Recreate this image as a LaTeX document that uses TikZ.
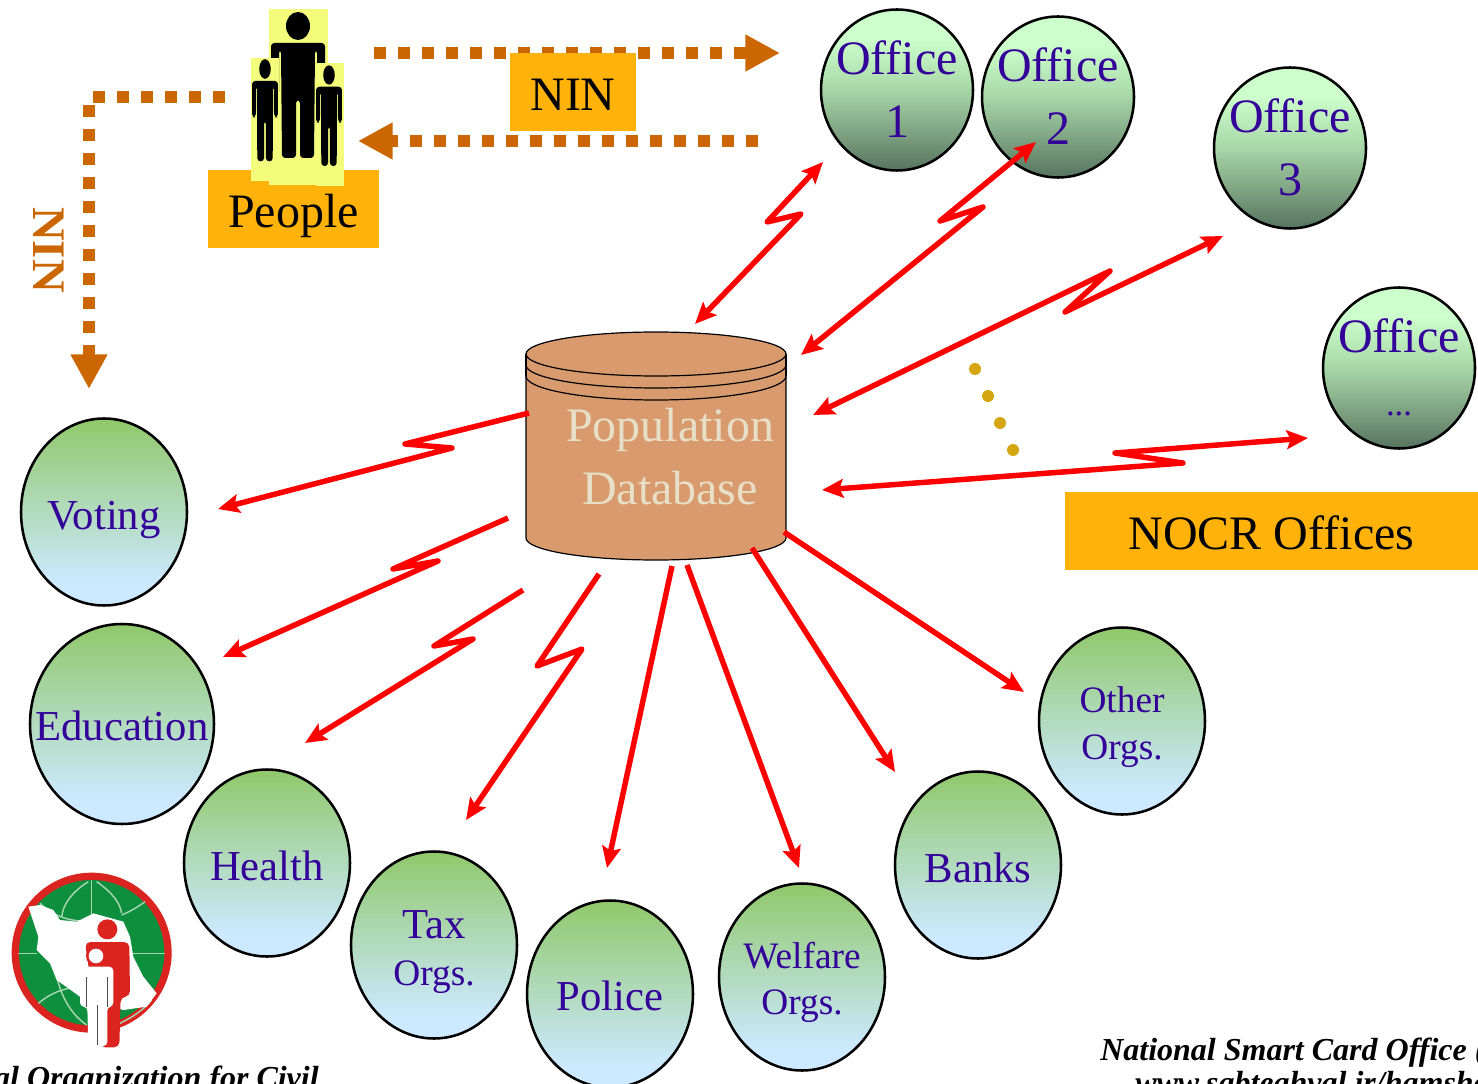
\documentclass[tikz,border=0pt]{standalone}
\usepackage{fontspec}
\setmainfont{Liberation Serif}
\usetikzlibrary{shapes.geometric,arrows.meta}
\definecolor{indigo}{HTML}{330099}
\definecolor{nin}{HTML}{CC6600}
\definecolor{boxor}{HTML}{FFB30A}
\definecolor{yel}{HTML}{F4FC7C}
\definecolor{dbfill}{HTML}{D99B6E}
\definecolor{dbtext}{HTML}{E8DFC8}
\definecolor{orgtop}{HTML}{90C86A}
\definecolor{orgbot}{HTML}{CCE9FF}
\definecolor{offtop}{HTML}{CCFFCC}
\definecolor{offmid}{HTML}{A8D6A8}
\definecolor{offbot}{HTML}{5A7862}
\definecolor{gold}{HTML}{D4A60F}
\definecolor{logored}{HTML}{DB2320}
\definecolor{logogreen}{HTML}{0E8F3E}
\definecolor{logoline}{HTML}{A5D6B0}
\pgfdeclareverticalshading{orgshade}{100bp}{color(0bp)=(orgbot); color(31bp)=(orgbot); color(75bp)=(orgtop); color(100bp)=(orgtop)}
\pgfdeclareverticalshading{offshade}{100bp}{color(0bp)=(offbot); color(26bp)=(offbot); color(50bp)=(offmid); color(66bp)=(offtop); color(100bp)=(offtop)}
\newcommand\lbl[2]{\raisebox{#1}[0pt][0pt]{\begin{tabular}{@{}c@{}}#2\end{tabular}}}
\newcommand\orgsmall{\fontsize{28}{35}\selectfont}
\tikzset{
  sz/.style 2 args={minimum width=#1*0.75pt,minimum height=#2*0.75pt},
  circ/.style={ellipse,draw=black,line width=1.9pt,inner sep=-100pt,text=indigo},
  orgnode/.style={circ,shade,shading=orgshade,sz={166}{187},font=\fontsize{32}{35}\selectfont},
  officenode/.style={circ,shade,shading=offshade,sz={152}{161},font=\fontsize{36}{47.25}\selectfont},
  orbox/.style={rectangle,fill=boxor,inner sep=0pt,text=black,font=\fontsize{36}{47}\selectfont},
  yelbox/.style={rectangle,fill=yel,inner sep=0pt},
  bolt/.style={draw=red,line width=4.1pt,line join=round,-{Stealth[length=16pt,width=14pt,inset=3pt]}},
  boltboth/.style={bolt,{Stealth[length=16pt,width=14pt,inset=3pt]}-{Stealth[length=16pt,width=14pt,inset=3pt]}},
  ninarrow/.style={draw=nin,line width=8.5pt,dash pattern=on 9pt off 9pt,-{Triangle[length=26pt,width=26pt]}},
  person/.pic={
    \fill[black] (0,0) ellipse (12 and 14);
    \fill[black,rounded corners=2.5pt] (-27,17) -- (27,17) -- (27,69) -- (19,69) -- (19,24) -- (17,24)
      -- (16,132) -- (2,132) -- (2,74) -- (-2,74) -- (-2,132) -- (-16,132) -- (-17,24) -- (-19,24)
      -- (-19,69) -- (-27,69) -- cycle;
  }
}
\begin{document}
\begin{tikzpicture}[x=0.75pt,y=-0.75pt]
\path[use as bounding box] (0,0) rectangle (1478,1084);
\clip (0,0) rectangle (1478,1084);

% population database
\fill[dbfill] (526,354) -- (526,538) arc[start angle=180,end angle=0,x radius=130,y radius=22] -- (786,354) arc[start angle=0,end angle=-180,x radius=130,y radius=22] -- cycle;
\draw[line width=0.9pt] (526,354) -- (526,538) arc[start angle=180,end angle=0,x radius=130,y radius=22] -- (786,354);
\draw[line width=0.9pt] (526,354) arc[start angle=180,end angle=-180,x radius=130,y radius=22];
\draw[line width=0.9pt] (526,365) arc[start angle=180,end angle=0,x radius=130,y radius=23];
\draw[line width=0.9pt] (526,376) arc[start angle=180,end angle=0,x radius=130,y radius=24];
\draw[line width=0.9pt] (526,354) -- (526,376) (786,354) -- (786,376);
\node[text=dbtext,align=center,inner sep=0pt,font=\fontsize{36}{47.25}\selectfont] (db) at (670,457) {Population\\Database};

% offices
\node[officenode] (off1) at (897,90) {\lbl{-9pt}{Office\\1}};
\node[officenode] (off2) at (1058,97) {\lbl{-9pt}{Office\\2}};
\node[officenode] (off3) at (1290,148) {\lbl{-9pt}{Office\\3}};
\node[officenode] (off4) at (1399,368) {\lbl{-9pt}{Office\\{\fontsize{26}{47.25}\selectfont ...}}};

% client organisations
\node[orgnode] (voting) at (104,512) {\lbl{-12pt}{Voting}};
\node[orgnode,sz={184}{200}] (education) at (122,724) {\lbl{-11.7pt}{Education}};
\node[orgnode] (health) at (267,863) {\lbl{-12pt}{Health}};
\node[orgnode] (tax) at (434,945) {\lbl{-12.2pt}{Tax\\{\orgsmall Orgs.}}};
\node[orgnode] (police) at (610,994) {\lbl{-11.5pt}{Police}};
\node[orgnode] (welfare) at (802,977) {\lbl{-10pt}{{\orgsmall Welfare}\\{\orgsmall Orgs.}}};
\node[orgnode] (banks) at (978,865) {\lbl{-12pt}{Banks}};
\node[orgnode] (other) at (1122,721) {\lbl{-10.5pt}{{\orgsmall Other}\\{\orgsmall Orgs.}}};

% gold dots between offices
\foreach \dx/\dy [count=\i] in {975/369,988/396,1000/423,1013/450}
  \fill[gold] (\dx,\dy) circle (6);

% people
\node[orbox,sz={171}{78}] (people) at (293.5,209) {\lbl{-11pt}{People}};
\node[yelbox,sz={59}{176}] (manbig) at (298.5,97) {};
\pic at (298,26) {person};
\node[yelbox,sz={28}{123}] (manleft) at (265,119.5) {};
\pic[xscale=0.48,yscale=0.7] at (265,69) {person};
\node[yelbox,sz={28}{123}] (manright) at (330,124.5) {};
\pic[xscale=0.48,yscale=0.69] at (329,75) {person};

% NIN arrows
\coordinate (peopleOut) at (374,53);
\coordinate (officeIn) at (780,53);
\coordinate (officeOut) at (758,141);
\coordinate (peopleIn) at (358,141);
\coordinate (peopleLeft) at (225,97);
\coordinate (ninCorner) at (89,97);
\coordinate (votingIn) at (89,389);
\draw[ninarrow] (peopleOut) -- (officeIn);
\draw[ninarrow] (officeOut) -- (peopleIn);
\draw[ninarrow] (peopleLeft) -- (ninCorner) -- (votingIn);
\node[orbox,sz={126}{78}] (ninbox) at (573,92) {\lbl{-10.5pt}{NIN}};
\node[text=nin,inner sep=0pt,rotate=-90,font=\fontsize{35}{47}\selectfont\bfseries] (ninside) at (49,250) {NIN};
\node[orbox,sz={413}{78}] (nocr) at (1271.5,531) {\lbl{-10.5pt}{NOCR Offices}};

% wireless links to offices
\coordinate (dbA) at (695,324); \coordinate (a1) at (801,214); \coordinate (a2) at (767,222); \coordinate (offA) at (823,162);
\coordinate (dbB) at (801,355); \coordinate (b1) at (983,207); \coordinate (b2) at (940,221); \coordinate (offB) at (1036,142);
\coordinate (dbC) at (813,415); \coordinate (c1) at (1110,271); \coordinate (c2) at (1065,312); \coordinate (offC) at (1223,236);
\coordinate (dbD) at (822,490); \coordinate (d1) at (1183,463); \coordinate (d2) at (1115,453); \coordinate (offD) at (1308,438);
\draw[boltboth] (dbA) -- (a1) -- (a2) -- (offA);
\draw[boltboth] (dbB) -- (b1) -- (b2) -- (offB);
\draw[boltboth] (dbC) -- (c1) -- (c2) -- (offC);
\draw[boltboth] (dbD) -- (d1) -- (d2) -- (offD);

% links to organisations
\coordinate (dbV) at (529,413); \coordinate (v1) at (405,444); \coordinate (v2) at (452,448); \coordinate (toV) at (218,509);
\coordinate (dbE) at (508,518); \coordinate (e1) at (393,569); \coordinate (e2) at (438,561); \coordinate (toE) at (223,657);
\coordinate (dbH) at (523,590); \coordinate (h1) at (434,646); \coordinate (h2) at (473,639); \coordinate (toH) at (305,743);
\coordinate (dbT) at (599,574); \coordinate (t1) at (537,666); \coordinate (t2) at (582,649); \coordinate (toT) at (466,820);
\coordinate (dbP) at (672,566); \coordinate (toP) at (607,868);
\coordinate (dbW) at (687,565); \coordinate (toW) at (799,868);
\coordinate (dbB2) at (752,548); \coordinate (toB) at (895,772);
\coordinate (dbO) at (784,532); \coordinate (toO) at (1024,692);
\draw[bolt] (dbV) -- (v1) -- (v2) -- (toV);
\draw[bolt] (dbE) -- (e1) -- (e2) -- (toE);
\draw[bolt] (dbH) -- (h1) -- (h2) -- (toH);
\draw[bolt] (dbT) -- (t1) -- (t2) -- (toT);
\draw[bolt] (dbP) -- (toP);
\draw[bolt] (dbW) -- (toW);
\draw[bolt] (dbB2) -- (toB);
\draw[bolt] (dbO) -- (toO);

% logo
\begin{scope}[shift={(0,850)},x=0.25pt,y=-0.25pt]
  \fill[logored] (275,308) circle (240);
  \fill[logogreen] (275,308) circle (218);
  \begin{scope}[draw=logoline,line width=1.1pt]
    \draw (275,90) -- (275,200);
    \draw (265,95) .. controls (210,130) and (190,165) .. (185,200);
    \draw (290,95) .. controls (340,130) and (360,160) .. (365,190);
    \draw (120,160) .. controls (170,210) and (240,220) .. (300,210);
    \draw (365,195) .. controls (390,185) and (415,170) .. (435,155);
    \draw (55,310) -- (110,310);
    \draw (400,310) -- (495,310);
    \draw (115,460) .. controls (150,430) and (190,415) .. (235,410);
    \draw (170,380) .. controls (185,440) and (210,490) .. (260,525);
    \draw (360,520) .. controls (400,500) and (430,480) .. (455,450);
  \end{scope}
  \fill[white] (85,170) -- (120,165) -- (160,180) -- (180,210) -- (230,215) -- (280,190) -- (370,215) -- (390,260) -- (400,320) -- (430,380) -- (470,430) -- (440,470) -- (370,480) -- (240,440) -- (170,390) -- (150,340) -- (110,300) -- (115,260) -- cycle;
  \fill[logored] (322,238) circle (30);
  \fill[logored,rounded corners=4pt] (255,276) -- (388,276) -- (390,440) -- (362,440) -- (358,592) -- (300,592) -- cycle;
  \fill[logored] (288,318) circle (30);
  \fill[white] (288,318) circle (22);
  \fill[white,rounded corners=3pt] (240,350) -- (340,350) -- (340,470) -- (322,470) -- (322,588) -- (265,588) -- (262,470) -- (240,470) -- cycle;
  \draw[black!70,line width=0.9pt] (292,465) -- (292,585);
  \draw[black!70,line width=0.6pt] (260,380) -- (260,470);
  \draw[black!70,line width=0.6pt] (322,380) -- (322,470);
\end{scope}

% captions
\node[anchor=base east,inner sep=0pt,font=\fontsize{24}{28}\selectfont\bfseries\itshape] (natorg) at (319,1088) {National Organization for Civil};
\node[anchor=base west,inner sep=0pt,font=\fontsize{24}{28}\selectfont\bfseries\itshape] (smart) at (1100,1060) {National Smart Card Office (NSCO)};
\node[anchor=base west,inner sep=0pt,font=\fontsize{24}{28}\selectfont\bfseries\itshape] (web) at (1135,1093) {www.sabteahval.ir/hamshahri};
\end{tikzpicture}
\end{document}
